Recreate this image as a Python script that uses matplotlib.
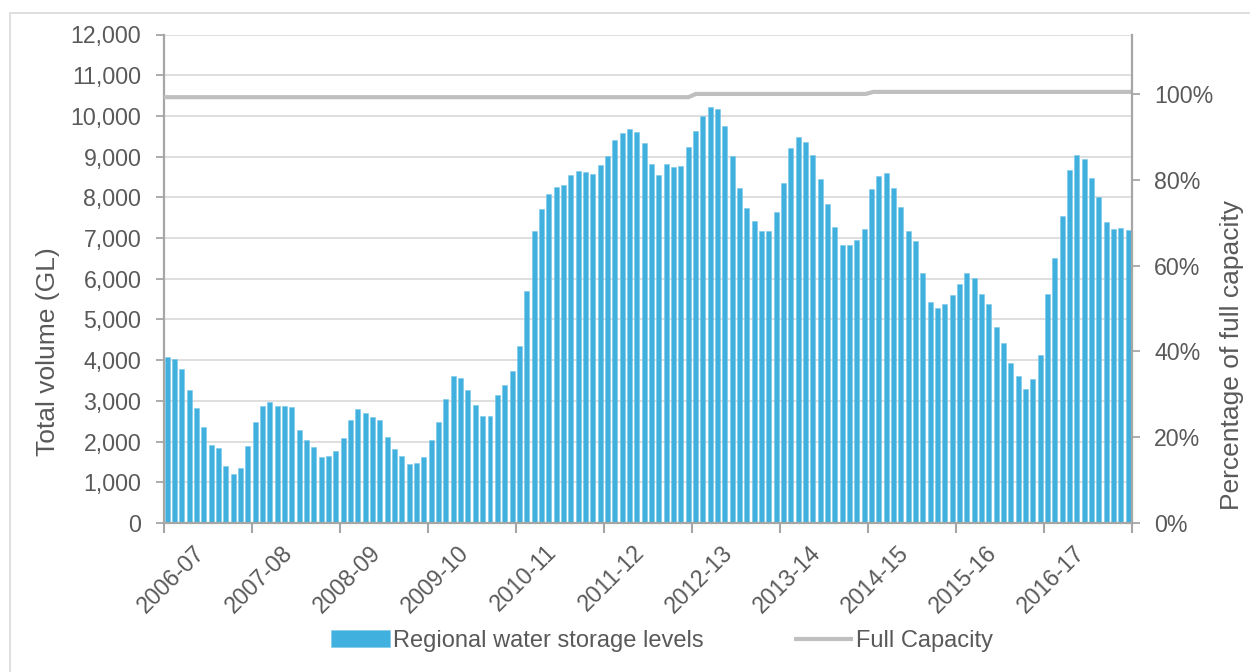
import numpy as np
import matplotlib
matplotlib.use('Agg')
import matplotlib.pyplot as plt
from matplotlib.patches import Rectangle

plt.rcParams['font.family'] = ['Liberation Sans', 'DejaVu Sans']

# monthly storage, July 2006 .. June 2017 (GL)
storage_gl = [
    4090, 4040, 3790, 3270, 2830, 2350, 1920, 1840, 1400, 1200, 1360, 1880,   # 2006-07
    2480, 2870, 2980, 2880, 2880, 2840, 2280, 2050, 1870, 1630, 1650, 1780,   # 2007-08
    2090, 2530, 2790, 2690, 2600, 2520, 2110, 1830, 1640, 1450, 1470, 1630,   # 2008-09
    2040, 2480, 3050, 3600, 3550, 3260, 2890, 2640, 2630, 3140, 3390, 3735,   # 2009-10
    4340, 5690, 7170, 7710, 8070, 8260, 8310, 8560, 8650, 8620, 8580, 8800,   # 2010-11
    9020, 9400, 9570, 9670, 9600, 9330, 8820, 8560, 8810, 8740, 8770, 9240,   # 2011-12
    9630, 10000, 10230, 10160, 9750, 9010, 8220, 7740, 7430, 7170, 7180, 7650,  # 2012-13
    8350, 9210, 9490, 9350, 9040, 8440, 7830, 7270, 6820, 6840, 6950, 7220,   # 2013-14
    8210, 8530, 8600, 8240, 7770, 7180, 6920, 6130, 5440, 5290, 5370, 5600,   # 2014-15
    5870, 6130, 6020, 5620, 5370, 4820, 4430, 3920, 3620, 3280, 3540, 4120,   # 2015-16
    5630, 6500, 7540, 8660, 9050, 8950, 8480, 8010, 7400, 7220, 7240, 7200,   # 2016-17
]
years = ['2006-07', '2007-08', '2008-09', '2009-10', '2010-11', '2011-12',
         '2012-13', '2013-14', '2014-15', '2015-16', '2016-17']

# full capacity (GL) as flat steps: level and number of months at that level
cap_levels = [10460, 10540, 10590]
cap_months = [72, 24, 36]
cap_ref = 10540  # 100% on the right axis

bar_color = '#40b0df'
txt = '#595959'
axc = '#a6a6a6'

fig = plt.figure(figsize=(12.5, 6.72), dpi=100)
ax = fig.add_axes([163.5 / 1250, 1 - 523 / 672, (1132 - 163.5) / 1250, (523 - 34.5) / 672])

n = len(storage_gl)
x = np.arange(n)
bars = ax.bar(x, storage_gl, width=0.68, color=bar_color, edgecolor='#7cc8ea', linewidth=0.4,
              label='Regional water storage levels', zorder=2)

cap = np.repeat(cap_levels, cap_months)
xl = np.linspace(-0.5, n - 0.5, len(cap))
line, = ax.plot(xl, cap, color='#bfbfbf', lw=3.0, label='Full Capacity', zorder=3,
                solid_capstyle='butt')

ax.set_xlim(-0.5, n - 0.5)
ax.set_ylim(0, 12000)
ax.set_yticks(np.arange(0, 12001, 1000))
ax.set_yticklabels([f'{v:,}' for v in range(0, 12001, 1000)])
ax.grid(axis='y', color='#d9d9d9', lw=1.2)
ax.set_axisbelow(True)

# year labels sit a touch right of the first month of each year
ax.set_xticks(np.arange(0, n, 12) + 0.55)
ax.set_xticklabels(years, rotation=45, ha='center')
ax.set_xticks(np.arange(-0.5, n, 12), minor=True)
ax.tick_params(axis='x', which='major', length=0, pad=13, labelsize=16.7, labelcolor=txt)
ax.tick_params(axis='x', which='minor', length=7, width=1.5, color=axc, direction='out')
ax.tick_params(axis='y', length=6, width=1.3, color=axc, pad=10, labelsize=16.7, labelcolor=txt)

for s in ['top', 'right']:
    ax.spines[s].set_visible(False)
for s in ['left', 'bottom']:
    ax.spines[s].set_color(axc)
    ax.spines[s].set_linewidth(1.6)

ax2 = ax.twinx()
ax2.set_ylim(0, 12000 / cap_ref * 100)
ax2.set_yticks(np.arange(0, 101, 20))
ax2.set_yticklabels([f'{v}%' for v in range(0, 101, 20)])
ax2.tick_params(axis='y', length=6, width=1.3, color=axc, pad=10, labelsize=16.7, labelcolor=txt)
for s in ['top', 'left', 'bottom']:
    ax2.spines[s].set_visible(False)
ax2.spines['right'].set_color(axc)
ax2.spines['right'].set_linewidth(1.6)

fig.text(48 / 1250, 1 - 352 / 672, 'Total volume (GL)', rotation=90, ha='center', va='center',
         fontsize=19, color=txt)
fig.text(1232 / 1250, 1 - 355 / 672, 'Percentage of full capacity', rotation=90, ha='center',
         va='center', fontsize=19, color=txt)

fig.legend([bars, line], ['Regional water storage levels', 'Full Capacity'], loc='center',
           bbox_to_anchor=(662 / 1250, 1 - 641 / 672), ncol=2, frameon=False, fontsize=17,
           labelcolor=txt, handlelength=2.5, handletextpad=0.15, columnspacing=3.8)

# light frame around the chart
fig.patches.append(Rectangle((9.5 / 1250, -0.05), 1.1, 1.05 - 12.5 / 672, transform=fig.transFigure,
                             fill=False, edgecolor='#d9d9d9', lw=1.2))

fig.savefig('out.png', dpi=100)
